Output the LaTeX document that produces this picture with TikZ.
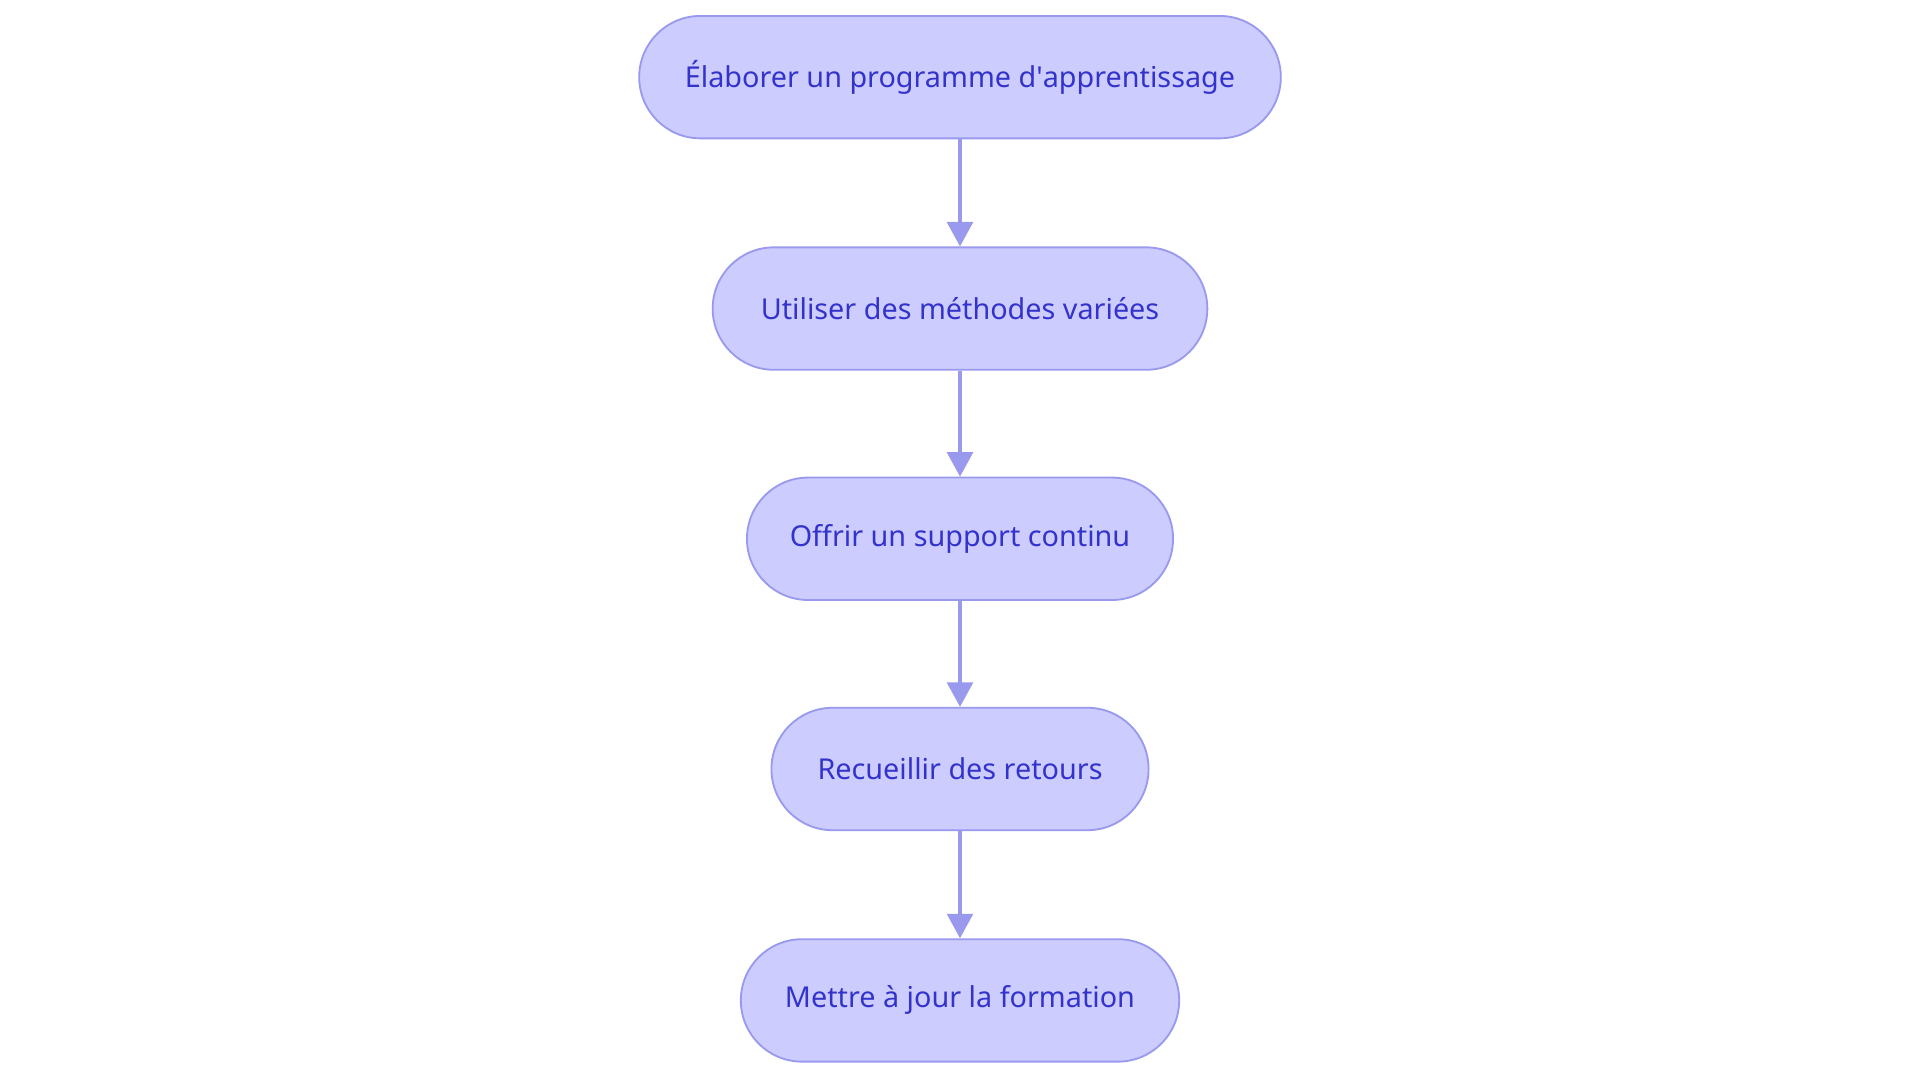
\documentclass[tikz,border=0pt]{standalone}
\usepackage{fontspec}
\setmainfont{Noto Sans}
\usetikzlibrary{arrows.meta}
\definecolor{fillc}{HTML}{CCCCFF}
\definecolor{linec}{HTML}{9999EE}
\definecolor{textc}{HTML}{3333CC}
\begin{document}
\begin{tikzpicture}[x=1pt,y=-1pt,
 box/.style={draw=linec,line width=1.5pt,fill=fillc,rounded corners=50pt,minimum height=100pt,text=textc,font=\fontsize{23.5}{28}\selectfont,inner sep=0pt},
 arr/.style={draw=linec,line width=3pt,-{Triangle[length=20pt,width=21pt]}}]
\useasboundingbox (0,0) rectangle (1568,884);
\node[box,minimum width=524pt] (a) at (784,63) {Élaborer un programme d\textquotesingle apprentissage};
\node[box,minimum width=404pt] (b) at (784,252) {Utiliser des méthodes variées};
\node[box,minimum width=348pt] (c) at (784,440) {Offrir un support continu};
\node[box,minimum width=308pt] (d) at (784,628) {Recueillir des retours};
\node[box,minimum width=358pt] (e) at (784,817) {Mettre à jour la formation};
\draw[arr] (a) -- (b);
\draw[arr] (b) -- (c);
\draw[arr] (c) -- (d);
\draw[arr] (d) -- (e);
\end{tikzpicture}
\end{document}
